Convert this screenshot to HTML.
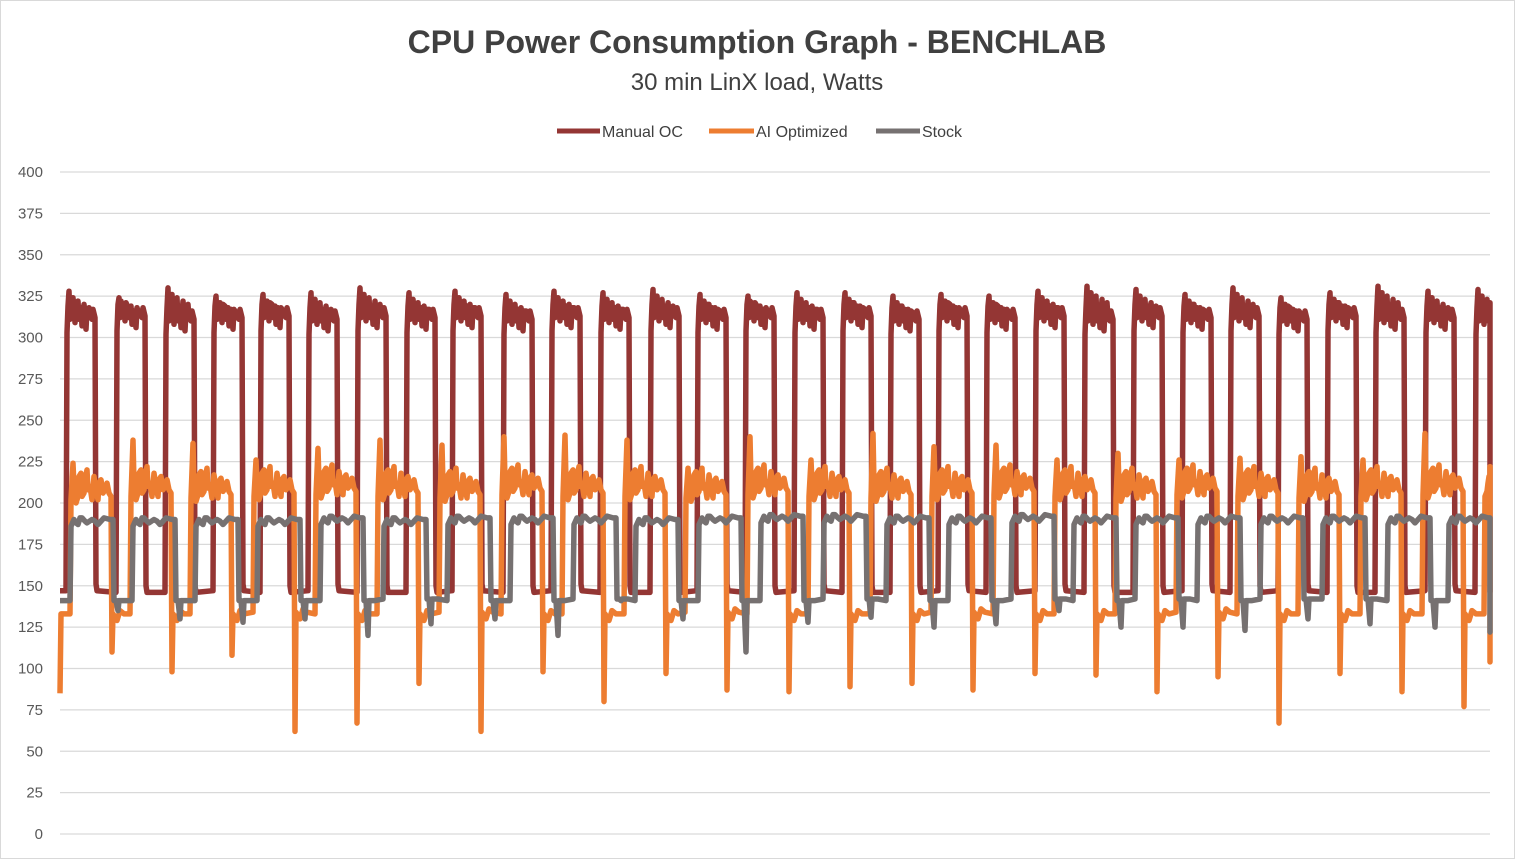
<!DOCTYPE html>
<html><head><meta charset="utf-8"><style>
body{margin:0;background:#fff;font-family:"Liberation Sans",sans-serif}
#wrap{position:relative;width:1515px;height:859px;overflow:hidden}
</style></head><body>
<div id="wrap">
<svg id="svg" width="1515" height="859" xmlns="http://www.w3.org/2000/svg">
<rect x="0.5" y="0.5" width="1514" height="858" fill="#fff" stroke="#d9d9d9"/>
<text x="757" y="53" text-anchor="middle" font-size="32" font-weight="bold" fill="#404040" font-family="Liberation Sans, sans-serif">CPU Power Consumption Graph - BENCHLAB</text>
<text x="757" y="90" text-anchor="middle" font-size="24" fill="#404040" font-family="Liberation Sans, sans-serif">30 min LinX load, Watts</text>
<g id="legend" font-size="16" fill="#404040">
<g><line x1="557" y1="131" x2="600" y2="131" stroke="#943634" stroke-width="5"/><text x="602" y="137">Manual OC</text></g>
<g><line x1="709" y1="131" x2="754" y2="131" stroke="#ED7D31" stroke-width="5"/><text x="756" y="137">AI Optimized</text></g>
<g><line x1="876" y1="131" x2="920" y2="131" stroke="#767171" stroke-width="5"/><text x="922" y="137">Stock</text></g>
</g>
<g id="grid"></g>
<g id="yaxis"></g>
<g id="series"></g>
</svg>
</div>
<script>
const yTicks=[0,25,50,75,100,125,150,175,200,225,250,275,300,325,350,375,400];
// time in sample index 0..1430
const ocRise=[6,56,105,153,200,248,297,346,392,443,491,540,590,637,685,734,782,830,878,926,975,1024,1073,1122,1170,1218,1267,1315,1365,1415];
const ocHigh=[315,316,314,315,316,314,316,315,316,314,316,315,316,315,316,315,316,314,316,315,316,314,316,315,316,314,316,315,315,314];
const ocPeak=[328,324,330,325,326,327,330,327,328,326,328,327,329,326,325,327,327,325,326,325,328,331,329,326,330,324,327,331,328,329];
const ocLow=[147,146,146,147,146,147,146,146,147,146,147,146,146,147,146,147,146,146,147,146,147,146,146,147,146,147,146,146,147,146];
const aiRise=[10,70,130,193,255,317,379,441,502,564,625,687,748,810,871,933,994,1055,1116,1177,1238,1300,1362,1424];
const aiHigh=[210,212,211,212,213,212,211,213,212,212,211,213,212,211,212,213,212,211,213,212,211,212,213,212];
const aiPeak=[224,238,236,226,233,238,235,240,241,238,221,240,226,242,234,235,226,230,226,227,228,226,242,207];
const aiDip=[110,98,108,62,67,91,62,98,80,97,87,86,89,91,87,97,96,86,95,67,97,86,77,104];
const aiLow=[133,133,133,134,133,133,134,133,133,133,134,133,133,133,134,133,133,133,134,133,133,133,133,133];
const stRise=[10,72,135,197,260,323,387,450,513,575,638,700,763,826,888,951,1013,1075,1137,1200,1262,1327,1388];
const stHigh=[190,190,190,190,191,190,191,191,191,190,191,192,192,191,191,192,191,191,191,191,191,191,191];
const stLow=[141,141,141,141,141,142,141,141,142,141,141,141,142,141,141,142,141,142,141,142,142,141,141];
const stDip=[135,130,128,130,120,127,130,120,141,130,110,128,131,125,127,135,125,125,123,130,127,125,122];
const ns='http://www.w3.org/2000/svg';
const X0=60,X1=1490,Y0=834,Y1=172;
const xs=t=>X0+t*(X1-X0)/1430;
const ys=v=>Y0-(v/400)*(Y0-Y1);
const grid=document.getElementById('grid'),yax=document.getElementById('yaxis'),ser=document.getElementById('series');
yTicks.forEach(v=>{
 const l=document.createElementNS(ns,'line');
 l.setAttribute('x1',X0);l.setAttribute('x2',X1);l.setAttribute('y1',ys(v));l.setAttribute('y2',ys(v));
 l.setAttribute('stroke','#d9d9d9');l.setAttribute('stroke-width','1.3');
 
 
 grid.appendChild(l);
 const t=document.createElementNS(ns,'text');
 t.setAttribute('x',43);t.setAttribute('y',ys(v)+5);t.setAttribute('text-anchor','end');
 t.setAttribute('font-size','15');t.setAttribute('fill','#595959');t.textContent=v;
 
 
 yax.appendChild(t);
});
function draw(pts,color,name){
 const p=document.createElementNS(ns,'path');
 p.setAttribute('d','M'+pts.map(q=>xs(Math.min(1430,q[0])).toFixed(1)+','+ys(q[1]).toFixed(1)).join('L'));
 p.setAttribute('fill','none');p.setAttribute('stroke',color);p.setAttribute('stroke-width','5.5');p.setAttribute('stroke-linejoin','round');
 
 
 ser.appendChild(p);
}
// Manual OC
let pts=[[0,ocLow[0]]];
ocRise.forEach((r,i)=>{
 const h=ocHigh[i],pk=ocPeak[i],lo=ocLow[i];
 pts.push([r,lo],[r+1,h-12],[r+2,h+4],[r+3,pk],[r+4,h-4],[r+5,h+6],[r+6,h-2],[r+7,pk-4],[r+8,h+2],[r+9,h-6],[r+10,h+5],[r+12,pk-6],[r+13,h-4],[r+15,h+3],[r+16,h-8],[r+18,pk-8],[r+19,h],[r+20,h-10],[r+21,h+2],[r+23,pk-10],[r+24,h-2],[r+26,h-4],[r+27,h+2],[r+29,h-3],[r+30,lo+4],[r+31,lo]);
});
pts.push([1430,ocLow[ocLow.length-1]]);
draw(pts,'#943634','series-manual-oc');
// AI Optimized
pts=[[0,85],[1,aiLow[0]]];
aiRise.forEach((r,i)=>{
 const h=aiHigh[i],pk=aiPeak[i],lo=aiLow[i],d=aiDip[i];
 pts.push([r,lo],[r+1,h-8],[r+3,pk],[r+4,h],[r+5,h+4],[r+6,h-10],[r+8,h-6],[r+9,h+6],[r+11,h+8],[r+12,h-6],[r+14,h-4],[r+15,h+4],[r+17,h+10],[r+18,h-2],[r+20,h],[r+22,h-8],[r+24,h+6],[r+26,h-2],[r+28,h-8],[r+29,h+2],[r+31,h+4],[r+33,h-4],[r+35,h-2],[r+37,h+2],[r+39,h-4],[r+41,h-6],[r+42,d],[r+43,lo],[r+47,lo-4],[r+50,lo+2],[r+54,lo]);
});
pts.push([1430,205]);
draw(pts,'#ED7D31','series-ai-optimized');
// Stock
pts=[[0,stLow[0]]];
stRise.forEach((r,i)=>{
 const h=stHigh[i],lo=stLow[i],d=stDip[i];
 pts.push([r,lo],[r+1,h-4],[r+4,h],[r+6,h-2],[r+8,h-3],[r+10,h+1],[r+12,h+1],[r+15,h-1],[r+17,h-2],[r+22,h],[r+25,h-1],[r+28,h-3],[r+34,h+1],[r+40,h],[r+43,h],[r+44,lo],[r+46,lo],[r+48,d],[r+49,lo],[r+55,lo]);
});
pts.push([1430,stHigh[stHigh.length-1]]);
draw(pts,'#767171','series-stock');
</script>
</body></html>
